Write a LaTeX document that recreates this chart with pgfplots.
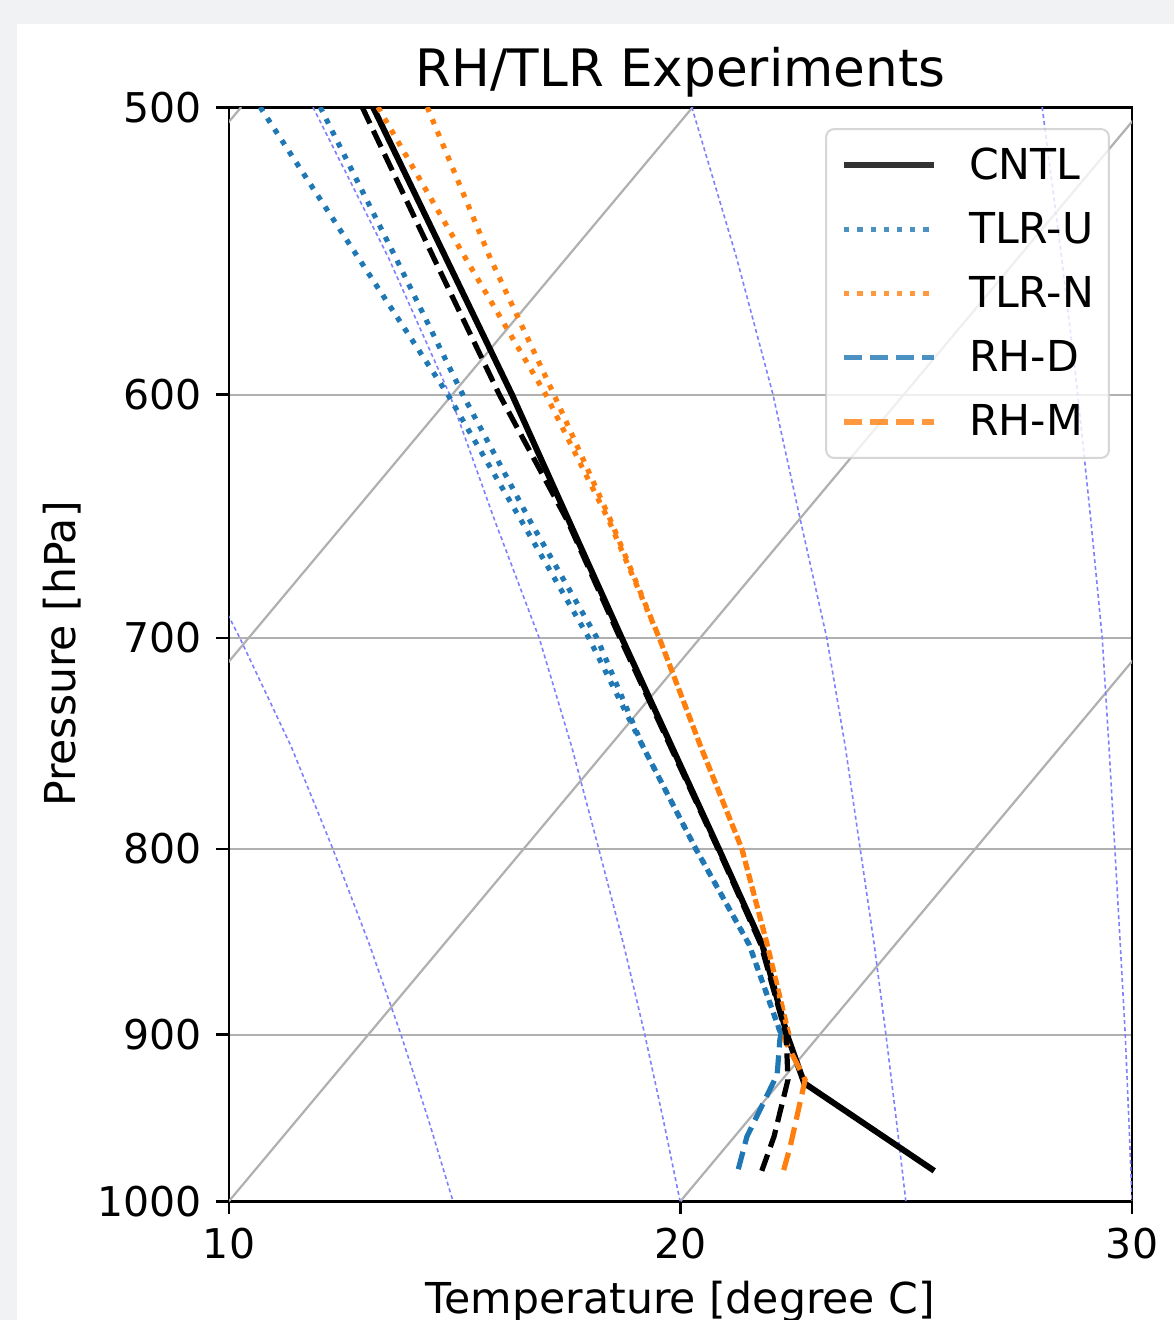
\documentclass[border=0pt]{standalone}
\usepackage{fontspec}
\setmainfont{DejaVu Sans}
\usepackage{pgfplots}
\pgfplotsset{compat=1.18}
\definecolor{tabblue}{HTML}{1F77B4}
\definecolor{taborange}{HTML}{FF7F0E}
\definecolor{gridgray}{HTML}{B0B0B0}
\definecolor{chrome}{HTML}{F0F2F4}
\definecolor{madiab}{HTML}{8080FF}
\newcommand{\tickfont}{\fontsize{20.5}{24}\selectfont}
\newcommand{\labfont}{\fontsize{21.3}{25}\selectfont}
\begin{document}
\begin{tikzpicture}
\path[use as bounding box] (0,0) rectangle (587pt,660pt);
\fill[chrome] (0,0) rectangle (587pt,660pt);
\fill[white] (8.5pt,0) rectangle (587pt,648pt);
\begin{axis}[
  at={(114.5pt,59.5pt)}, anchor=south west,
  width=451.5pt, height=547pt, scale only axis,
  xmin=10, xmax=30, ymin=500, ymax=1000,
  ymode=log, y dir=reverse,
  xtick={10,20,30}, xticklabels={10,20,30},
  ytick={500,600,700,800,900,1000},
  yticklabels={500,600,700,800,900,1000},
  yminorticks=false, xminorticks=false,
  ymajorgrids, grid style={gridgray, line width=1.1pt},
  tick align=outside, major tick length=6.5pt,
  tick style={black, line width=1.4pt},
  axis line style={line width=1.4pt},
  xtick pos=bottom, ytick pos=left,
  ticklabel style={font=\tickfont, inner sep=0pt},
  xticklabel shift=7pt, yticklabel shift=7pt,
  /pgf/number format/assume math mode=true,
  title={RH/TLR Experiments},
  title style={at={(0.5,1)}, anchor=base, yshift=4.5pt, font=\fontsize{25.8}{30}\selectfont, inner sep=0pt},
  xlabel={Temperature [degree C]},
  xlabel style={at={(axis description cs:0.5,-0.1024)}, anchor=base, font=\labfont, inner sep=0pt},
  ylabel={Pressure [hPa]},
  ylabel style={at={(axis description cs:-0.1705,0.5)}, anchor=base, font=\labfont, inner sep=0pt},
  legend style={at={(0.9756,0.9808)}, anchor=north east,
    draw=black!20, line width=1pt, rounded corners=4pt,
    fill=white, fill opacity=0.8, draw opacity=0.8, text opacity=1,
    font=\labfont, inner xsep=7.5pt, inner ysep=9.5pt,
    row sep=15pt, column sep=16pt, nodes={inner sep=0pt}},
  legend cell align=left,
  legend image code/.code={\draw[#1] (0pt,0pt) -- (45pt,0pt);},
  iso/.style={gridgray, line width=1.1pt, forget plot},
  madb/.style={madiab, line width=0.8pt, dash pattern=on 2pt off 1.5pt, forget plot},
  cntl/.style={black, line width=3pt},
  dotU/.style={tabblue, line width=2.6pt, dash pattern=on 2.6pt off 4pt},
  dotN/.style={taborange, line width=2.6pt, dash pattern=on 2.6pt off 4pt},
  dashD/.style={line width=2.6pt, dash pattern=on 9pt off 4pt},
]
% isotherms (skewed)
\addplot[iso] coordinates {(-10,1000) (10.27,500)};
\addplot[iso] coordinates {(0,1000) (20.27,500)};
\addplot[iso] coordinates {(10,1000) (30.27,500)};
\addplot[iso] coordinates {(20,1000) (40.27,500)};
\addplot[iso] coordinates {(30,1000) (50.27,500)};
% moist adiabats
\addplot[madb] coordinates {(8.91,650) (10.24,700) (11.38,750) (12.30,800) (13.11,850) (13.81,900) (14.42,950) (14.96,1000)};
\addplot[madb] coordinates {(11.86,500) (13.53,550) (14.89,600) (15.89,650) (16.87,700) (17.59,750) (18.19,800) (18.74,850) (19.21,900) (19.62,950) (19.99,1000)};
\addplot[madb] coordinates {(20.25,500) (21.24,550) (22.05,600) (22.66,650) (23.24,700) (23.65,750) (23.98,800) (24.29,850) (24.55,900) (24.78,950) (24.99,1000)};
\addplot[madb] coordinates {(28.01,500) (28.44,550) (28.80,600) (29.09,650) (29.34,700) (29.49,750) (29.62,800) (29.74,850) (29.85,900) (29.93,950) (30.00,1000)};
% CNTL
\addplot[cntl] coordinates {(13.19,500) (16.27,600) (18.70,700) (20.85,800) (21.81,850) (22.36,900) (22.74,928) (25.62,981)};
\addlegendentry{CNTL}
% TLR-U
\addplot[dotU] coordinates {(10.69,500) (12.86,550) (14.85,600) (16.48,650) (17.97,700) (19.17,750) (20.34,800) (21.52,850) (22.23,900)};
\addlegendentry{TLR-U}
% TLR-N
\addplot[dotN] coordinates {(13.30,500) (15.23,550) (17.02,600) (18.42,650) (19.53,700) (20.45,750) (21.36,800) (21.92,850) (22.40,900)};
\addlegendentry{TLR-N}
\addplot[dotU, forget plot] coordinates {(12.02,500) (13.69,550) (15.18,600) (16.67,650) (18.15,700) (19.17,750) (20.34,800) (21.52,850) (22.23,900)};
\addplot[dotN, forget plot] coordinates {(14.39,500) (15.78,550) (17.20,600) (18.46,650) (19.53,700) (20.45,750) (21.36,800) (21.92,850) (22.40,900)};
% RH-D
\addplot[dashD, tabblue] coordinates {(22.24,897) (22.20,903) (22.14,923) (21.47,960) (21.27,981)};
\addlegendentry{RH-D}
% RH-M
\addplot[dashD, taborange] coordinates {(22.33,897) (22.31,903) (22.76,926) (22.43,966) (22.28,981)};
\addlegendentry{RH-M}
% unlabeled black dashed
\addplot[dashD, black, forget plot] coordinates {(12.95,500) (14.53,550) (15.99,600) (17.50,650) (18.66,700) (20.83,800) (21.78,850) (22.34,900) (22.38,926) (22.07,960) (21.80,981)};
\end{axis}
\end{tikzpicture}
\end{document}
